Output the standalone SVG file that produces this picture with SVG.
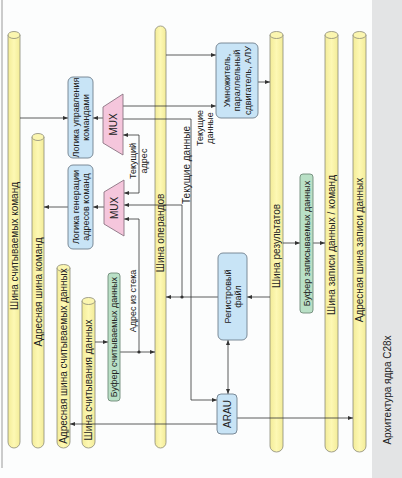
<svg xmlns="http://www.w3.org/2000/svg" width="402" height="478" viewBox="0 0 402 478">
<defs>
<marker id="ah" viewBox="0 0 10 10" refX="10" refY="5" markerWidth="5" markerHeight="5" orient="auto-start-reverse" markerUnits="userSpaceOnUse">
<path d="M0,1 L10,5 L0,9 Z" fill="#333"/>
</marker>
<linearGradient id="cyl" x1="0" x2="1" y1="0" y2="0">
<stop offset="0" stop-color="#f3ec98"/>
<stop offset="0.5" stop-color="#fdf8b4"/>
<stop offset="1" stop-color="#f3ec98"/>
</linearGradient>
</defs>
<style>
text{font-family:"Liberation Sans",Arial,sans-serif;fill:#222;}
.bus{fill:url(#cyl);stroke:#8c8a78;stroke-width:0.8;}
.cap{fill:#fbf6b0;stroke:#8c8a78;stroke-width:0.8;}
.blue{fill:#c8e4f6;stroke:#6f7f8c;stroke-width:0.9;}
.green{fill:#b9e0c6;stroke:#6f8a78;stroke-width:0.9;}
.mux{fill:#f5c6dc;stroke:#8a7482;stroke-width:0.9;}
.lbl{font-size:10px;}
.sm{font-size:9px;}
.ln{fill:none;stroke:#333;stroke-width:0.8;}
.arr{marker-end:url(#ah);}
</style>
<rect x="0" y="0" width="402" height="478" fill="#fcfdfd"/>
<rect x="372" y="0" width="30" height="478" fill="#e3e4e5"/>
<line x1="2" y1="0" x2="2" y2="468" stroke="#9a9a9a" stroke-width="1"/>
<text class="lbl" transform="translate(387,390) rotate(-90)" text-anchor="middle" dominant-baseline="central">Архитектура ядра C28x</text>

<g id="bus-read-cmd">
<path class="bus" d="M8,35 V442 A6,6 0 0 0 20,442 V35 Z"/>
<ellipse class="cap" cx="14" cy="35" rx="6" ry="3.5"/>
<text class="lbl" transform="translate(14,246) rotate(-90)" text-anchor="middle" dominant-baseline="central">Шина считываемых команд</text>
</g>
<g id="bus-addr-cmd">
<path class="bus" d="M32,137 V442 A6,6 0 0 0 44,442 V137 Z"/>
<ellipse class="cap" cx="38" cy="137" rx="6" ry="3.5"/>
<text class="lbl" transform="translate(38,292) rotate(-90)" text-anchor="middle" dominant-baseline="central">Адресная шина команд</text>
</g>
<g id="bus-addr-read-data">
<path class="bus" d="M57,268 V442 A6.5,6 0 0 0 70,442 V268 Z"/>
<ellipse class="cap" cx="63.5" cy="268" rx="6.5" ry="3.5"/>
<text class="lbl" transform="translate(63.5,356) rotate(-90)" text-anchor="middle" dominant-baseline="central">Адресная шина считываемых данных</text>
</g>
<g id="bus-read-data">
<path class="bus" d="M82,301 V442 A6.5,6 0 0 0 95,442 V301 Z"/>
<ellipse class="cap" cx="88.5" cy="301" rx="6.5" ry="3.5"/>
<text class="lbl" transform="translate(88.5,380) rotate(-90)" text-anchor="middle" dominant-baseline="central">Шина считывания данных</text>
</g>
<g id="bus-operands">
<rect class="bus" x="155" y="26" width="11" height="422" rx="5.5"/>
<text class="lbl" transform="translate(160.5,233) rotate(-90)" text-anchor="middle" dominant-baseline="central">Шина операндов</text>
</g>
<g id="bus-results">
<path class="bus" d="M270,35 V446 A6.5,6 0 0 0 283,446 V35 Z"/>
<ellipse class="cap" cx="276.5" cy="35" rx="6.5" ry="3.5"/>
<text class="lbl" transform="translate(276.5,246) rotate(-90)" text-anchor="middle" dominant-baseline="central">Шина результатов</text>
</g>
<g id="bus-write-data">
<path class="bus" d="M325,35 V446 A6.5,6 0 0 0 338,446 V35 Z"/>
<ellipse class="cap" cx="331.5" cy="35" rx="6.5" ry="3.5"/>
<text class="lbl" transform="translate(331.5,245) rotate(-90)" text-anchor="middle" dominant-baseline="central">Шина записи данных / команд</text>
</g>
<g id="bus-addr-write-data">
<path class="bus" d="M353,35 V446 A6.5,6 0 0 0 366,446 V35 Z"/>
<ellipse class="cap" cx="359.5" cy="35" rx="6.5" ry="3.5"/>
<text class="lbl" transform="translate(359.5,250) rotate(-90)" text-anchor="middle" dominant-baseline="central">Адресная шина записи данных</text>
</g>

<g id="connectors">
<line class="ln arr" x1="20" y1="118" x2="68" y2="118"/>
<line class="ln arr" x1="103" y1="118" x2="93" y2="118"/>
<line class="ln arr" x1="104" y1="207" x2="93" y2="207"/>
<line class="ln arr" x1="68" y1="207" x2="44" y2="207"/>
<line class="ln arr" x1="166" y1="55" x2="216" y2="55"/>
<line class="ln arr" x1="123" y1="106" x2="216" y2="106"/>
<line class="ln arr" x1="258" y1="82" x2="270" y2="82"/>
<path class="ln arr" d="M123,119 H191 V400 H217"/>
<path class="ln arr" d="M139,164 V135 H123"/>
<path class="ln arr" d="M139,164 V193 H124"/>
<path class="ln arr" d="M139,352 V219 H124"/>
<line class="ln arr" x1="119" y1="352" x2="155" y2="352"/>
<circle cx="139" cy="352" r="1.6" fill="#333"/>
<line class="ln arr" x1="95" y1="342" x2="108" y2="342"/>
<line class="ln arr" x1="218" y1="297" x2="166" y2="297"/>
<path class="ln arr" d="M182,297 V205 H124"/>
<circle cx="182" cy="297" r="1.6" fill="#333"/>
<line class="ln arr" x1="270" y1="297" x2="247" y2="297"/>
<line class="ln arr" x1="228" y1="340" x2="228" y2="394" style="marker-start:url(#ah)"/>
<line class="ln arr" x1="217" y1="424" x2="70" y2="424"/>
<line class="ln arr" x1="237" y1="418" x2="353" y2="418"/>
<line class="ln arr" x1="283" y1="243" x2="300" y2="243"/>
<line class="ln arr" x1="313" y1="243" x2="325" y2="243"/>
<text class="sm" transform="translate(133,161) rotate(-90)" text-anchor="middle" dominant-baseline="central">Текущий</text>
<text class="sm" transform="translate(144,161) rotate(-90)" text-anchor="middle" dominant-baseline="central">адрес</text>
<text class="sm" transform="translate(133,301) rotate(-90)" text-anchor="middle" dominant-baseline="central">Адрес из стека</text>
<text class="lbl" transform="translate(186,165) rotate(-90)" text-anchor="middle" dominant-baseline="central">Текущие данные</text>
<text class="sm" transform="translate(200,128) rotate(-90)" text-anchor="middle" dominant-baseline="central">Текущие</text>
<text class="sm" transform="translate(210,128) rotate(-90)" text-anchor="middle" dominant-baseline="central">данные</text>
</g>

<g id="instr-control">
<rect class="blue" x="68" y="77" width="25" height="81" rx="5"/>
<text class="sm" transform="translate(75.5,117.5) rotate(-90)" text-anchor="middle" dominant-baseline="central">Логика управления</text>
<text class="sm" transform="translate(85.5,117.5) rotate(-90)" text-anchor="middle" dominant-baseline="central">командами</text>
</g>
<g id="addr-gen">
<rect class="blue" x="68" y="165" width="25" height="84" rx="5"/>
<text class="sm" transform="translate(75.5,207) rotate(-90)" text-anchor="middle" dominant-baseline="central">Логика генерации</text>
<text class="sm" transform="translate(85.5,207) rotate(-90)" text-anchor="middle" dominant-baseline="central">адресов команд</text>
</g>
<g id="mux1">
<polygon class="mux" points="103,107 123,94 123,155 103,143"/>
<text class="lbl" transform="translate(113,124.5) rotate(-90)" text-anchor="middle" dominant-baseline="central">MUX</text>
</g>
<g id="mux2">
<polygon class="mux" points="104,192 124,180 124,236 104,224"/>
<text class="lbl" transform="translate(114,208) rotate(-90)" text-anchor="middle" dominant-baseline="central">MUX</text>
</g>
<g id="alu">
<rect class="blue" x="216" y="43" width="42" height="75" rx="5"/>
<text class="sm" transform="translate(226.5,80.5) rotate(-90)" text-anchor="middle" dominant-baseline="central">Умножитель,</text>
<text class="sm" transform="translate(237,80.5) rotate(-90)" text-anchor="middle" dominant-baseline="central">параллельный</text>
<text class="sm" transform="translate(247.5,80.5) rotate(-90)" text-anchor="middle" dominant-baseline="central">сдвигатель, АЛУ</text>
</g>
<g id="regfile">
<rect class="blue" x="218" y="253" width="29" height="87" rx="5"/>
<text class="sm" transform="translate(228,296.5) rotate(-90)" text-anchor="middle" dominant-baseline="central">Регистровый</text>
<text class="sm" transform="translate(238,296.5) rotate(-90)" text-anchor="middle" dominant-baseline="central">файл</text>
</g>
<g id="arau">
<rect class="blue" x="217" y="394" width="20" height="40" rx="4"/>
<text class="lbl" transform="translate(227,414) rotate(-90)" text-anchor="middle" dominant-baseline="central">ARAU</text>
</g>
<g id="read-buffer">
<rect class="green" x="108" y="273" width="12" height="128" rx="3"/>
<text class="sm" transform="translate(114,337) rotate(-90)" text-anchor="middle" dominant-baseline="central">Буфер считываемых данных</text>
</g>
<g id="write-buffer">
<rect class="green" x="300" y="174" width="13" height="139" rx="3"/>
<text class="sm" transform="translate(306.5,243.5) rotate(-90)" text-anchor="middle" dominant-baseline="central">Буфер записываемых данных</text>
</g>
</svg>
